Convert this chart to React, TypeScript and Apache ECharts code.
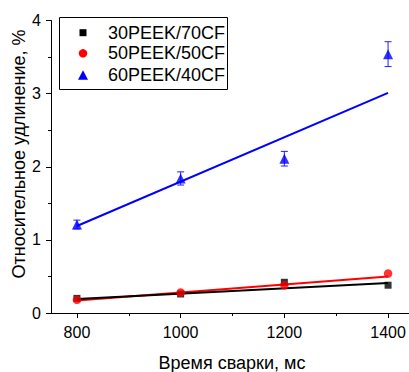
import React, { useEffect, useRef } from "react";
import * as echarts from "echarts";

const times = [800, 1000, 1200, 1400];
const peek30 = [0.2, 0.26, 0.42, 0.38];
const peek50 = [0.18, 0.28, 0.38, 0.54];
const peek60 = [1.21, 1.84, 2.11, 3.54];
const peek60Err = [0.06, 0.09, 0.1, 0.17];
const fitX = [800, 1400];
const fit30 = [0.19, 0.41];
const fit50 = [0.17, 0.5];
const fit60 = [1.19, 3.01];
const xTicks = [800, 1000, 1200, 1400];
const xMinorTicks = [900, 1100, 1300];
const legendNames = ["30PEEK/70CF", "50PEEK/50CF", "60PEEK/40CF"];
const xTitle = "Время сварки, мс";
const yTitle = "Относительное удлинение, %";

const FONT = "'Liberation Sans', Arial, sans-serif";

export default function App() {
  const ref = useRef<HTMLDivElement>(null);
  useEffect(() => {
    if (!ref.current) return;
    const chart = echarts.init(ref.current, undefined, { renderer: "svg" });
    const pairs = (xs: number[], ys: number[]) => xs.map((x, i) => [x, ys[i]]);
    const legendTop = 17.5;
    const rowY = [32.7, 53.3, 75.3];
    chart.setOption({
      animation: false,
      backgroundColor: "#fff",
      grid: { left: 51, right: -5, top: 20.5, bottom: 59, containLabel: false, outerBoundsMode: "none" },
      xAxis: [
        {
          type: "value",
          min: 750,
          max: 1450,
          axisLine: { lineStyle: { color: "#000", width: 1 } },
          axisTick: { show: true, customValues: xTicks, length: 5, lineStyle: { color: "#000" } },
          axisLabel: {
            customValues: xTicks,
            formatter: (v: number) => String(v),
            fontFamily: FONT,
            fontSize: 16,
            color: "#000",
            margin: 11,
          },
          splitLine: { show: false },
        },
        {
          type: "value",
          min: 750,
          max: 1450,
          position: "bottom",
          axisLine: { show: false },
          axisTick: { show: true, customValues: xMinorTicks, length: 3, lineStyle: { color: "#000" } },
          axisLabel: { show: false },
          splitLine: { show: false },
        },
      ],
      yAxis: {
        type: "value",
        min: 0,
        max: 4,
        interval: 1,
        axisLine: { show: true, lineStyle: { color: "#000", width: 1 } },
        axisTick: { show: true, length: 5, lineStyle: { color: "#000" } },
        minorTick: { show: true, splitNumber: 2, length: 3, lineStyle: { color: "#000" } },
        axisLabel: { fontFamily: FONT, fontSize: 16, color: "#000", margin: 10 },
        splitLine: { show: false },
      },
      series: [
        { type: "line", data: pairs(fitX, fit50), showSymbol: false, lineStyle: { color: "#ff0000", width: 2 }, z: 2 },
        { type: "line", data: pairs(fitX, fit30), showSymbol: false, lineStyle: { color: "#000000", width: 2 }, z: 2 },
        { type: "line", data: pairs(fitX, fit60), showSymbol: false, lineStyle: { color: "#0000ff", width: 2 }, z: 2 },
        {
          type: "custom",
          name: "err60",
          data: times.map((t, i) => [t, peek60[i] - peek60Err[i], peek60[i] + peek60Err[i]]),
          renderItem: (params: any, api: any) => {
            const x = api.value(0);
            const lo = api.coord([x, api.value(1)]);
            const hi = api.coord([x, api.value(2)]);
            const w = 3.5;
            const style = { stroke: "#2020ff", lineWidth: 1 };
            return {
              type: "group",
              children: [
                { type: "line", shape: { x1: lo[0], y1: lo[1], x2: hi[0], y2: hi[1] }, style },
                { type: "line", shape: { x1: lo[0] - w, y1: lo[1], x2: lo[0] + w, y2: lo[1] }, style },
                { type: "line", shape: { x1: hi[0] - w, y1: hi[1], x2: hi[0] + w, y2: hi[1] }, style },
              ],
            };
          },
          z: 3,
        },
        { type: "scatter", name: legendNames[0], data: pairs(times, peek30), symbol: "rect", symbolSize: 7, itemStyle: { color: "#000000" }, z: 4 },
        { type: "scatter", name: legendNames[1], data: pairs(times, peek50), symbol: "circle", symbolSize: 8.5, itemStyle: { color: "#ff0000" }, z: 4 },
        { type: "scatter", name: legendNames[2], data: pairs(times, peek60), symbol: "triangle", symbolSize: 10, itemStyle: { color: "#0000ff" }, z: 4 },
      ],
      graphic: [
        {
          type: "text",
          x: 232,
          y: 362.5,
          style: { text: xTitle, fontFamily: FONT, fontSize: 18, fill: "#000", align: "center", verticalAlign: "middle" },
          z: 11,
        },
        {
          type: "text",
          x: 18.8,
          y: 154,
          rotation: Math.PI / 2,
          style: { text: yTitle, fontFamily: FONT, fontSize: 18, fill: "#000", align: "center", verticalAlign: "middle" },
          z: 11,
        },
        { type: "rect", shape: { x: 59.5, y: legendTop, width: 168, height: 72 }, style: { fill: "#fff", stroke: "#000", lineWidth: 1 }, z: 10 },
        { type: "rect", shape: { x: 79.5, y: rowY[0] - 3.5, width: 7, height: 7 }, style: { fill: "#000" }, z: 11 },
        { type: "circle", shape: { cx: 83, cy: rowY[1], r: 4.2 }, style: { fill: "#ff0000" }, z: 11 },
        { type: "polygon", shape: { points: [[83, rowY[2] - 5], [78, rowY[2] + 4.5], [88, rowY[2] + 4.5]] }, style: { fill: "#0000ff" }, z: 11 },
        ...legendNames.map((n, i) => ({
          type: "text",
          x: 108,
          y: rowY[i],
          style: { text: n, fontFamily: FONT, fontSize: 18, fill: "#000", verticalAlign: "middle", align: "left" },
          z: 11,
        })),
      ],
    });
    return () => chart.dispose();
  }, []);
  return <div ref={ref} style={{ width: 409, height: 372, position: "absolute", left: 0, top: 0 }} />;
}
